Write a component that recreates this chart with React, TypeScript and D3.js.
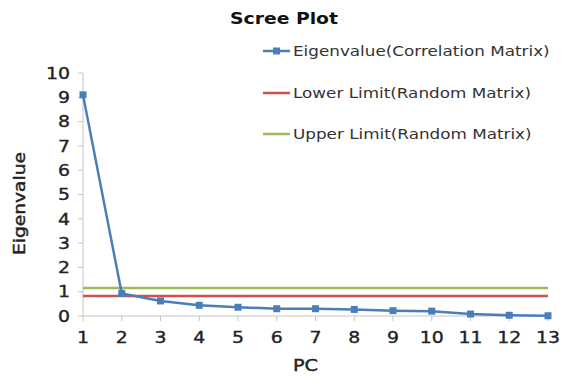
import React from "react";
import * as d3 from "d3";

const pcs = [1, 2, 3, 4, 5, 6, 7, 8, 9, 10, 11, 12, 13];
const eigenvalues = [9.1, 0.93, 0.62, 0.44, 0.36, 0.3, 0.3, 0.27, 0.22, 0.2, 0.08, 0.03, 0.01];
const lowerLimit = [0.82, 0.82, 0.82, 0.82, 0.82, 0.82, 0.82, 0.82, 0.82, 0.82, 0.82, 0.82, 0.82];
const upperLimit = [1.15, 1.15, 1.15, 1.15, 1.15, 1.15, 1.15, 1.15, 1.15, 1.15, 1.15, 1.15, 1.15];
const yTicks = [0, 1, 2, 3, 4, 5, 6, 7, 8, 9, 10];
const legendLabels = [
  "Eigenvalue(Correlation Matrix)",
  "Lower Limit(Random Matrix)",
  "Upper Limit(Random Matrix)",
];

const BLUE = "#4a7ebb";
const RED = "#d0504d";
const GREEN = "#9bbb59";
const AXIS = "#c4c4c4";
const FONT = "DejaVu Sans, Verdana, sans-serif";
const INK = "#222";

export default function App() {
  const W = 561, H = 377;
  const x = d3.scaleLinear().domain([1, 13]).range([83, 548]);
  const y = d3.scaleLinear().domain([0, 10]).range([316, 73]);
  const line = d3.line<number>().x((_, i) => x(pcs[i])).y((d) => y(d));

  const legendColors = [BLUE, RED, GREEN];
  const legendY = [51, 93, 134];
  const SX = 1.18;

  return (
    <svg width={W} height={H} style={{ position: "absolute", left: 0, top: 0, background: "#fff" }}>
      <rect width={W} height={H} fill="#fff" />
      <text x={284} y={24} textAnchor="middle" fontFamily={FONT} fontWeight="bold" fontSize={16} fill="#111"
        textLength={108} lengthAdjust="spacingAndGlyphs">
        Scree Plot
      </text>
      {/* y axis */}
      <line x1={x(1)} x2={x(1)} y1={y(10)} y2={y(0)} stroke={AXIS} strokeWidth={1} />
      {yTicks.map((t) => (
        <g key={"y" + t}>
          <line x1={x(1) - 5} x2={x(1)} y1={y(t)} y2={y(t)} stroke={AXIS} />
          <text transform={`translate(70,${y(t)}) scale(${SX},1)`} dy="0.36em" textAnchor="end" fontFamily={FONT}
            fontSize={16} fill={INK} stroke={INK} strokeWidth={0.35}>
            {t}
          </text>
        </g>
      ))}
      {/* x axis */}
      <line x1={x(1)} x2={x(13)} y1={y(0)} y2={y(0)} stroke={AXIS} strokeWidth={1} />
      {pcs.map((p) => (
        <g key={"x" + p}>
          <line x1={x(p)} x2={x(p)} y1={y(0)} y2={y(0) + 5} stroke={AXIS} />
          <text transform={`translate(${x(p)},343) scale(${SX},1)`} textAnchor="middle" fontFamily={FONT}
            fontSize={16} fill={INK} stroke={INK} strokeWidth={0.35}>
            {p}
          </text>
        </g>
      ))}
      <text transform={`translate(305.5,371) scale(1.2,1)`} textAnchor="middle" fontFamily={FONT} fontSize={16}
        fill={INK} stroke={INK} strokeWidth={0.4}>
        PC
      </text>
      <text
        transform={`translate(24.5,203.5) rotate(-90)`}
        textAnchor="middle"
        fontFamily={FONT}
        fontSize={16}
        fill={INK}
        stroke={INK}
        strokeWidth={0.45}
        textLength={103}
        lengthAdjust="spacingAndGlyphs"
      >
        Eigenvalue
      </text>
      {/* limit lines */}
      <path d={line(upperLimit) || ""} fill="none" stroke={GREEN} strokeWidth={2.5} />
      <path d={line(lowerLimit) || ""} fill="none" stroke={RED} strokeWidth={2.5} />
      {/* eigen series */}
      <path d={line(eigenvalues) || ""} fill="none" stroke={BLUE} strokeWidth={2.5} />
      {eigenvalues.map((v, i) => (
        <rect key={"m" + i} x={x(pcs[i]) - 3.5} y={y(v) - 3.5} width={7} height={7} fill={BLUE} />
      ))}
      {/* legend */}
      {legendLabels.map((lab, i) => (
        <g key={"l" + i}>
          <line x1={263} x2={290} y1={legendY[i]} y2={legendY[i]} stroke={legendColors[i]} strokeWidth={2.5} />
          {i === 0 && <rect x={273} y={legendY[i] - 3.5} width={7} height={7} fill={BLUE} />}
          <text transform={`translate(293,${legendY[i]}) scale(1.2,1)`} dy="0.36em" fontFamily={FONT} fontSize={14} fill="#333">
            {lab}
          </text>
        </g>
      ))}
    </svg>
  );
}
